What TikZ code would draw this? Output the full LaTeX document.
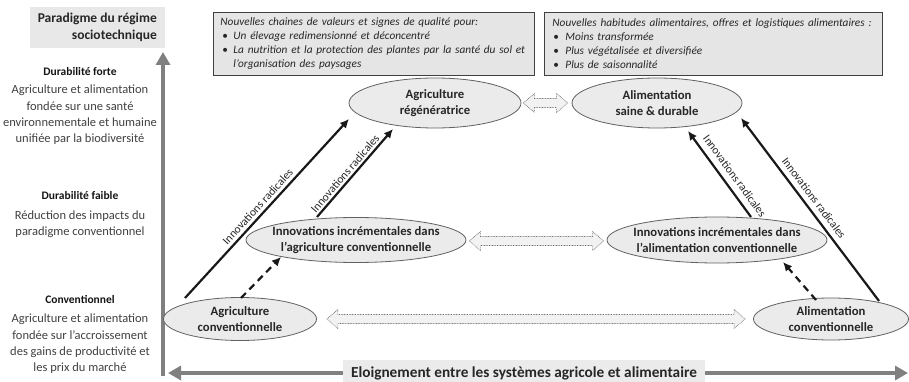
\documentclass[tikz,border=0pt]{standalone}
\usepackage{fontspec}
\setmainfont{Carlito}
\usetikzlibrary{calc,arrows.meta,shapes.geometric}
\definecolor{txt}{HTML}{262626}
\newcommand\dblarr[2]{%
  \draw[blk] let \p1=(#1), \p2=(#2) in
  (\x1,\y1) -- (\x1+11pt,\y1+9.5pt) -- (\x1+11pt,\y1+4.5pt) -- (\x2-11pt,\y1+4.5pt) -- (\x2-11pt,\y1+9.5pt) -- (\x2,\y1)
  -- (\x2-11pt,\y1-9.5pt) -- (\x2-11pt,\y1-4.5pt) -- (\x1+11pt,\y1-4.5pt) -- (\x1+11pt,\y1-9.5pt) -- cycle;}
\newcommand\bulA{\hspace*{2pt}\makebox[11pt][l]{\upshape\textbullet}}
\newcommand\bulB{\hspace*{1pt}\makebox[12pt][l]{\upshape\textbullet}}
\begin{document}
\begin{tikzpicture}[x=1pt,y=-1pt,
  ellshape/.style={ellipse, draw=black!62, line width=0.8pt, fill=black!8, inner sep=0pt},
  elltext/.style={align=center, inner sep=0pt, text=txt, font=\bfseries\fontsize{12.7}{16}\selectfont},
  topbox/.style={draw=black!75, line width=0.9pt, fill=black!10, anchor=north west, align=left,
    inner xsep=7pt, inner ysep=2pt, text=txt, font=\itshape\fontsize{11.3}{14}\selectfont},
  head/.style={font=\bfseries\fontsize{11.5}{14}\selectfont, text=black!92, inner sep=0pt},
  desc/.style={align=center, font=\fontsize{12.5}{16.4}\selectfont, text=black!75, inner sep=0pt},
  axis/.style={draw=black!50, line width=4.5pt},
  rad/.style={draw=black!90, line width=2.2pt, -{Latex[length=9pt,width=8.5pt]}},
  dsh/.style={rad, dash pattern=on 7pt off 5pt},
  rlab/.style={sloped, font=\fontsize{11.5}{13}\selectfont, inner sep=2pt, text=txt},
  blk/.style={draw=black!55, line width=0.6pt, dash pattern=on 0.8pt off 0.8pt, fill=black!5}
]
\useasboundingbox (0,0) rectangle (909,382);

% axes
\coordinate (ybot) at (163,376);
\coordinate (ytop) at (163,52);
\coordinate (xl) at (168,373);
\coordinate (xr) at (908,373);
\draw[axis, -{Triangle[length=13pt,width=14pt]}] (ybot) -- (ytop);
\draw[axis, {Triangle[length=13pt,width=14pt]}-{Triangle[length=13pt,width=14pt]}] (xl) -- (xr);
\node[fill=black!8, inner xsep=8pt, minimum height=27pt, text=txt,
  font=\bfseries\fontsize{15.3}{18}\selectfont] (elo) at (524,373.5)
  {Eloignement entre les systèmes agricole et alimentaire};

% paradigme box
\node[fill=black!9, align=right, anchor=north east, minimum width=135pt, minimum height=41pt,
  inner xsep=8pt, text=txt, font=\bfseries\fontsize{13.5}{17}\selectfont] (para) at (165,7)
  {Paradigme du régime\\sociotechnique};

% left column
\node[head] (h1) at (80,72) {Durabilité forte};
\node[desc] (d1) at (80,115) {Agriculture et alimentation\\fondée sur une santé\\environnementale et humaine\\unifiée par la biodiversité};
\node[head] (h2) at (80,196) {Durabilité faible};
\node[desc] (d2) at (80,224.5) {Réduction des impacts du\\paradigme conventionnel};
\node[head] (h3) at (80,299) {Conventionnel};
\node[desc] (d3) at (80,344) {Agriculture et alimentation\\fondée sur l’accroissement\\des gains de productivité et\\les prix du marché};

% top boxes
\node[topbox, text width=307pt, minimum height=63pt] (box1) at (213,12)
  {\mbox{Nouvelles chaines de valeurs et signes de qualité pour:}\\
   \mbox{\bulA Un élevage redimensionné et déconcentré}\\
   \mbox{\bulA La nutrition et la protection des plantes par la santé du sol et}\\
   \mbox{\hspace*{13pt}l’organisation des paysages}};
\node[topbox, inner xsep=8pt, text width=322pt, minimum height=63pt] (box2) at (544,12)
  {\mbox{Nouvelles habitudes alimentaires, offres et logistiques alimentaires :}\\
   \mbox{\bulB Moins transformée}\\
   \mbox{\bulB Plus végétalisée et diversifiée}\\
   \mbox{\bulB Plus de saisonnalité}};

% ellipses
\node[ellshape, minimum width=172pt, minimum height=50pt] (regen) at (435,103) {};
\node[elltext] (regen-t) at (regen.center) {Agriculture\\régénératrice};
\node[ellshape, minimum width=170pt, minimum height=50pt] (saine) at (657,103) {};
\node[elltext] (saine-t) at (saine.center) {Alimentation\\saine \& durable};
\node[ellshape, minimum width=220pt, minimum height=45pt] (incag) at (356,240) {};
\node[elltext] (incag-t) at (incag.center) {Innovations incrémentales dans\\l’agriculture conventionnelle};
\node[ellshape, minimum width=220pt, minimum height=46pt] (incal) at (717,240) {};
\node[elltext] (incal-t) at (incal.center) {Innovations incrémentales dans\\l’alimentation conventionnelle};
\node[ellshape, minimum width=153pt, minimum height=43pt] (agconv) at (240,319) {};
\node[elltext] (agconv-t) at (agconv.center) {Agriculture\\conventionnelle};
\node[ellshape, minimum width=155pt, minimum height=42pt] (alconv) at (831,319) {};
\node[elltext] (alconv-t) at (alconv.center) {Alimentation\\conventionnelle};

% block double arrows
\coordinate (u1) at ($(regen.east)+(2,0)$);
\coordinate (u2) at ($(saine.west)+(-4,0)$);
\coordinate (m1) at ($(incag.east)+(3,1)$);
\coordinate (m2) at ($(incal.west)+(-3,1)$);
\coordinate (l1) at ($(agconv.east)+(10,0)$);
\coordinate (l2) at ($(alconv.west)+(-8,0)$);
\dblarr{u1}{u2}
\dblarr{m1}{m2}
\dblarr{l1}{l2}

% radical innovations
\draw[rad] ($(agconv.center)+(-55,-21)$) -- node[rlab, pos=0.48, above=1pt] {Innovations radicales} ($(regen.center)+(-86,16)$);
\draw[rad] ($(incag.center)+(-39,-23)$) -- node[rlab, pos=0.44, above=0pt] {Innovations radicales} ($(regen.center)+(-42,26)$);
\draw[rad] ($(incal.center)+(34,-23)$) -- node[rlab, pos=0.40, above=4pt] {Innovations radicales} ($(saine.center)+(31,28)$);
\draw[rad] ($(alconv.center)+(48,-18)$) -- node[rlab, pos=0.53, above=3pt] {Innovations radicales} ($(saine.center)+(84,15)$);

% incremental (dashed)
\draw[dsh] ($(agconv.center)+(1,-21)$) -- ($(incag.center)+(-75,17)$);
\draw[dsh] ($(alconv.center)+(-15,-19)$) -- ($(incal.center)+(66,22)$);
\end{tikzpicture}
\end{document}
